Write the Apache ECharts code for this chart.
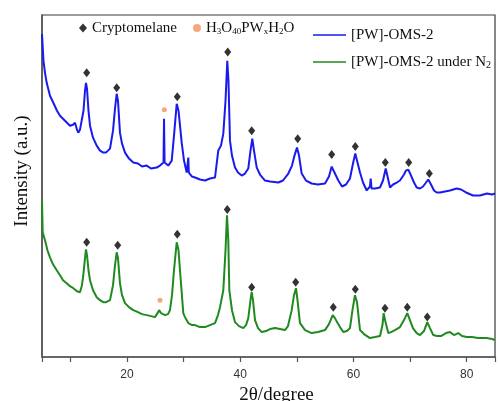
<!DOCTYPE html>
<html>
<head>
<meta charset="utf-8">
<script src="https://cdn.jsdelivr.net/npm/echarts@6/dist/echarts.min.js"></script>
<style>
html,body{margin:0;padding:0;background:#fff;}
#chart{width:498px;height:401px;}
</style>
</head>
<body>
<div id="chart"></div>
<script>
// ---- data (x = 2theta in degrees, y = intensity, arbitrary units) ----
const seriesNames = ['[PW]-OMS-2', '[PW]-OMS-2 under N2'];
const markerNames = ['Cryptomelane', 'H3O40PWxH2O'];
const xTickLabels = [20, 40, 60, 80];

const bluePattern = [
  [5.0,324],[5.26,297],[5.53,285],[5.83,275],[6.41,262],[7.0,255],[7.65,247],[8.18,242],[9.06,237],[9.94,232],
  [10.47,233],[10.83,235],[11.18,228],[11.41,225],[11.71,228],[12.01,229],[12.33,247],[12.59,267],[12.77,275],[12.95,269],
  [13.21,247],[13.48,232],[14.01,220],[14.66,212],[15.24,207],[15.83,205],[16.30,205],[17.01,209],[17.54,227],[17.89,249],
  [18.19,264],[18.42,257],[18.77,225],[19.13,214],[19.66,205],[20.36,199],[21.12,195],[21.95,194],[22.66,191],[23.49,192],
  [24.25,189],[25.26,190],[25.84,192],[26.46,195],[26.55,239],[26.65,195],[27.30,192],[27.91,197],[28.31,222],[28.79,254],
  [29.11,247],[29.67,215],[30.08,197],[30.55,185],[30.78,187],[30.84,200],[30.93,185],[31.49,181],[32.02,180],[32.90,178],
  [33.79,177],[34.67,179],[35.55,180],[36.13,207],[36.61,212],[37.02,224],[37.41,257],[37.72,297],[37.93,277],[38.20,217],
  [38.55,202],[39.08,190],[39.61,185],[40.27,182],[40.85,184],[41.43,189],[41.82,207],[42.14,219],[42.44,207],[42.92,190],
  [43.50,183],[44.38,177],[45.27,176],[46.73,175],[47.56,177],[48.50,184],[49.15,192],[49.59,202],[50.03,210],[50.39,202],
  [50.86,184],[51.62,177],[52.63,174],[53.74,173],[54.98,174],[55.68,181],[56.16,191],[56.48,187],[56.74,185],[57.33,177],
  [57.98,171],[58.69,173],[59.39,179],[59.92,194],[60.33,204],[60.63,197],[61.16,185],[61.69,175],[62.34,167],[62.92,171],
  [63.05,179],[63.19,169],[63.81,169],[64.69,170],[65.22,177],[65.70,189],[66.02,181],[66.46,170],[66.99,173],[67.65,175],
  [68.22,177],[68.93,183],[69.28,187],[69.69,188],[70.17,182],[70.70,175],[71.17,170],[71.76,169],[72.29,171],[72.82,175],
  [73.22,178],[73.70,173],[74.23,167],[74.70,165],[75.29,165],[76.17,166],[77.05,167],[78.24,169],[79.00,168],[79.88,165],
  [81.12,162],[82.35,162],[83.59,164],[84.47,163],[85.0,164]
];

const greenPattern = [
  [5.00,157],[5.12,125],[5.53,117],[5.97,107],[6.41,100],[6.94,93],[7.60,87],[8.18,82],[8.71,77],[9.36,74],
  [9.94,71],[10.53,69],[11.18,66],[11.71,65],[12.06,72],[12.29,82],[12.59,99],[12.77,108],[12.95,102],[13.21,87],
  [13.48,77],[14.01,67],[14.66,60],[15.24,57],[15.83,55],[16.30,55],[17.01,57],[17.54,72],[17.89,92],[18.19,105],
  [18.42,99],[18.77,74],[19.13,62],[19.66,54],[20.36,50],[21.12,47],[21.95,45],[22.66,43],[23.49,42],[24.25,41],
  [24.96,40],[25.40,44],[25.72,47],[26.02,44],[26.73,42],[27.25,43],[27.60,47],[27.96,62],[28.31,87],[28.79,115],
  [29.11,107],[29.37,87],[29.95,44],[30.25,40],[30.84,34],[31.49,32],[32.02,32],[32.90,30],[33.79,30],[34.67,32],
  [35.55,34],[36.08,42],[36.44,50],[37.02,67],[37.41,107],[37.67,142],[37.90,117],[38.08,67],[38.55,47],[39.08,35],
  [39.79,31],[40.55,29],[41.03,32],[41.43,39],[41.82,57],[42.03,65],[42.26,57],[42.62,37],[43.15,29],[43.80,25],
  [44.56,26],[45.27,28],[46.15,29],[47.03,28],[47.91,27],[48.44,31],[49.10,47],[49.50,62],[49.86,69],[50.12,57],
  [50.56,34],[51.45,27],[52.63,24],[53.74,25],[54.98,27],[55.68,33],[56.34,42],[56.74,39],[57.10,35],[57.63,30],
  [58.21,25],[58.86,26],[59.39,29],[59.83,47],[60.27,62],[60.63,55],[61.16,27],[61.86,23],[62.92,19],[63.81,20],
  [64.69,21],[65.13,32],[65.34,44],[65.66,35],[66.15,24],[66.63,25],[67.33,27],[68.22,30],[68.93,37],[69.51,44],
  [69.98,37],[70.51,29],[71.17,24],[71.76,22],[72.46,26],[73.04,35],[73.52,29],[74.10,22],[74.76,21],[75.46,21],
  [76.35,24],[77.05,25],[77.76,22],[78.52,24],[79.17,21],[79.99,20],[80.94,20],[82.00,19],[83.53,19],[84.47,18],
  [85.0,17]
];

// cryptomelane reflection markers (diamonds) above each pattern
const cryptoBlue = [[12.89,285],[18.19,270],[28.89,261],[37.80,306],[42.03,227],[50.16,219],[56.16,203],[60.33,211],[65.63,195],[69.76,195],[73.40,184]];
const cryptoGreen = [[12.89,115],[18.37,112],[28.89,123],[37.72,148],[42.03,70],[49.80,75],[56.44,50],[60.33,68],[65.57,49],[69.51,50],[73.04,40]];
// H3O40PWxH2O marker (orange dot)
const hpwBlue = [[26.60,248]];
const hpwGreen = [[25.84,57]];

// ---- chart ----
const SERIF = '"Liberation Serif", "Times New Roman", serif';
const SANS = '"Liberation Sans", Arial, sans-serif';
const LINE_ICON = 'path://M0,0H40V2H0Z';
const chart = echarts.init(document.getElementById('chart'), null, {renderer: 'canvas'});

const option = {
  animation: false,
  backgroundColor: '#ffffff',
  grid: {left: 42, top: 15, right: 3, bottom: 44, outerBoundsMode: 'none', containLabel: false,
         show: true, borderColor: '#3a3a3a', borderWidth: 1.2, backgroundColor: 'transparent'},
  legend: [
    {
      data: markerNames,
      left: 79, top: 20, padding: 0,
      orient: 'horizontal',
      itemWidth: 8, itemHeight: 9, itemGap: 16,
      textStyle: {fontFamily: SERIF, fontSize: 15, color: '#111', lineHeight: 16,
        rich: {s: {fontFamily: SERIF, fontSize: 9, color: '#111', verticalAlign: 'bottom', lineHeight: 11}}},
      formatter: function (name) {
        if (name === 'H3O40PWxH2O') return 'H{s|3}O{s|40}PW{s|x}H{s|2}O';
        return name;
      }
    },
    {
      data: [
        {name: seriesNames[0], icon: LINE_ICON},
        {name: seriesNames[1], icon: LINE_ICON}
      ],
      left: 313, top: 27, padding: 0,
      orient: 'vertical',
      itemWidth: 33, itemHeight: 14, itemGap: 11,
      textStyle: {fontFamily: SERIF, fontSize: 15, color: '#111', lineHeight: 16,
        rich: {s: {fontFamily: SERIF, fontSize: 10, color: '#111', verticalAlign: 'bottom', lineHeight: 10, padding: [6, 0, 0, 0]}}},
      formatter: function (name) {
        if (name === '[PW]-OMS-2 under N2') return '[PW]-OMS-2 under N{s|2}';
        return name;
      }
    }
  ],
  xAxis: {
    type: 'value',
    min: 5, max: 85,
    splitNumber: 8,
    name: '2θ/degree',
    nameLocation: 'middle',
    nameGap: 25,
    nameTextStyle: {fontFamily: SERIF, fontSize: 19, color: '#111', padding: [0, 0, 0, 16]},
    axisLine: {show: true, lineStyle: {color: '#555', width: 1.5}},
    axisTick: {show: true, inside: false, length: 5, lineStyle: {color: '#555', width: 1.2}},
    axisLabel: {
      fontFamily: SANS, fontSize: 12, color: '#333', margin: 12,
      formatter: function (v) { return xTickLabels.indexOf(v) >= 0 ? String(v) : ''; }
    },
    splitLine: {show: false}
  },
  yAxis: {
    type: 'value',
    min: 0, max: 343,
    name: 'Intensity (a.u.)',
    nameLocation: 'middle',
    nameRotate: 90,
    nameGap: 10,
    nameTextStyle: {fontFamily: SERIF, fontSize: 19, color: '#111', padding: [0, 0, 0, 30]},
    axisLine: {show: true, lineStyle: {color: '#555', width: 1.5}},
    axisTick: {show: false},
    axisLabel: {show: false},
    splitLine: {show: false}
  },
  series: [
    {
      name: seriesNames[0], type: 'line', data: bluePattern,
      showSymbol: false, symbol: 'none', smooth: false,
      lineStyle: {color: '#1a1aee', width: 2}, itemStyle: {color: '#1a1aee'}, z: 2
    },
    {
      name: seriesNames[1], type: 'line', data: greenPattern,
      showSymbol: false, symbol: 'none', smooth: false,
      lineStyle: {color: '#1f8a1f', width: 2}, itemStyle: {color: '#1f8a1f'}, z: 2
    },
    {
      name: markerNames[0], type: 'scatter', data: cryptoBlue.concat(cryptoGreen),
      symbol: 'diamond', symbolSize: [7, 9], itemStyle: {color: '#000'}, z: 3
    },
    {
      name: markerNames[1], type: 'scatter', data: hpwBlue.concat(hpwGreen),
      symbol: 'circle', symbolSize: 5, itemStyle: {color: '#f2915c'}, z: 3
    }
  ]
};
chart.setOption(option);
</script>
</body>
</html>
